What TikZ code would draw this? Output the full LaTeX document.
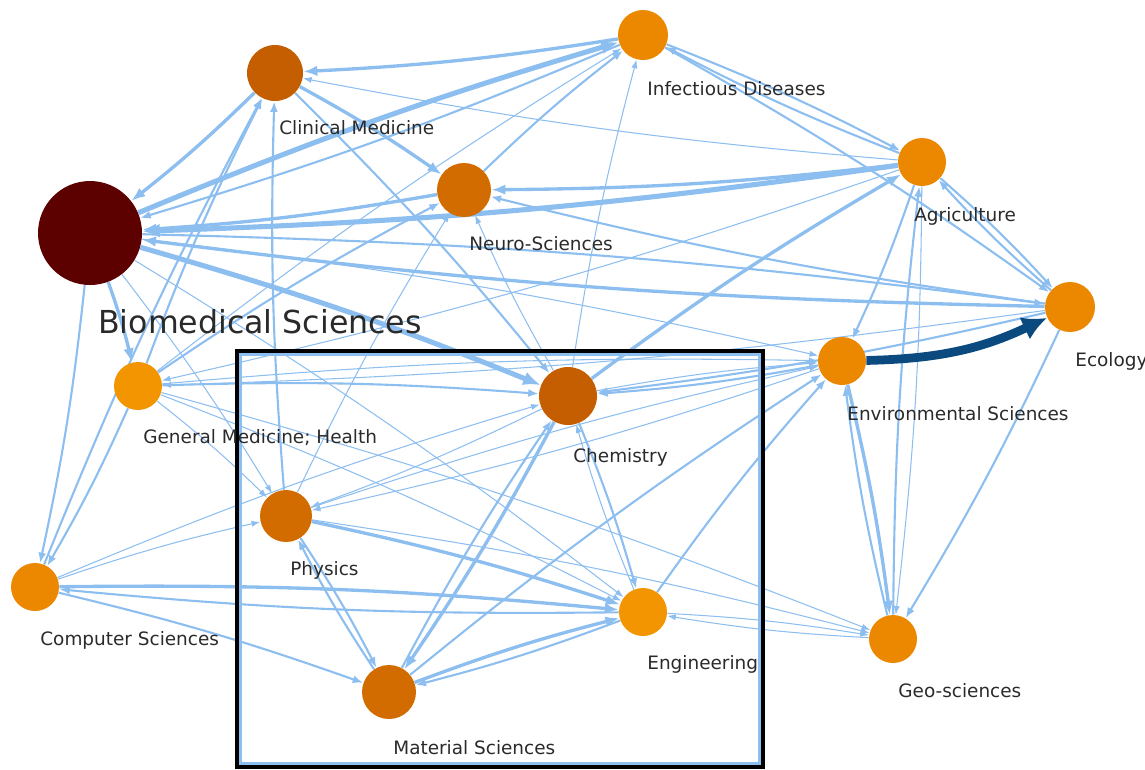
\documentclass[tikz,border=0pt]{standalone}
\usepackage{fontspec}
\setmainfont{DejaVu Sans}
\usetikzlibrary{arrows.meta,backgrounds}

\definecolor{edgeblue}{HTML}{8DBEF0}
\definecolor{darkflow}{HTML}{0B4A7E}
\definecolor{labelgray}{HTML}{2A2A2A}
\definecolor{biocol}{HTML}{5C0000}
\definecolor{deeporange}{HTML}{C45E00}
\definecolor{midorange}{HTML}{D26C00}
\definecolor{orange1}{HTML}{EC8800}
\definecolor{orange2}{HTML}{F39500}

\begin{document}
\begin{tikzpicture}[x=0.02cm,y=-0.02cm,
  field/.style={circle,inner sep=0pt,minimum size=#1},
  lbl/.style={anchor=west,inner sep=0pt,text=labelgray,font=\fontsize{10.5}{12}\selectfont},
  link/.style={draw=edgeblue,bend left=3},
  e1/.style={link,line width=0.6pt,-{Latex[length=5pt,width=3.5pt]}},
  e2/.style={link,line width=1.2pt,-{Latex[length=6pt,width=4.5pt]}},
  e3/.style={link,line width=1.9pt,-{Latex[length=8pt,width=6pt]}},
  e4/.style={link,line width=2.9pt,-{Latex[length=10pt,width=8pt]}}]
\useasboundingbox (0,0) rectangle (1145,769);

\node[field=2.08cm,fill=biocol] (bio) at (90,233) {};
\node[field=1.12cm,fill=deeporange] (clin) at (275,73) {};
\node[field=1.0cm,fill=orange1] (inf) at (643,35) {};
\node[field=1.08cm,fill=midorange] (neuro) at (464,190) {};
\node[field=0.96cm,fill=orange1] (agri) at (922,162) {};
\node[field=1.0cm,fill=orange1] (eco) at (1070,307) {};
\node[field=0.96cm,fill=orange1] (env) at (842,361) {};
\node[field=0.96cm,fill=orange2] (gen) at (138,386) {};
\node[field=1.16cm,fill=deeporange] (chem) at (568,396) {};
\node[field=1.04cm,fill=midorange] (phys) at (286,516) {};
\node[field=0.96cm,fill=orange1] (comp) at (35,587) {};
\node[field=0.96cm,fill=orange2] (eng) at (643,612) {};
\node[field=0.96cm,fill=orange1] (geo) at (893,639) {};
\node[field=1.08cm,fill=midorange] (mat) at (389,692) {};

\begin{pgfonlayer}{background}
\draw[e3] (clin) to (bio);
\draw[e4] (bio) to (inf);
\draw[e2] (inf) to (bio);
\draw[e4] (agri) to (bio);
\draw[e3] (neuro) to (bio);
\draw[e3] (eco) to (bio);
\draw[e2] (bio) to (eco);
\draw[e4] (bio) to (chem);
\draw[e3] (bio) to (gen);
\draw[e2] (bio) to (comp);
\draw[e1] (bio) to (phys);
\draw[e1] (bio) to (env);
\draw[e1] (bio) to (eng);

\draw[e3] (inf) to (clin);
\draw[e1] (agri) to (clin);
\draw[e3] (clin) to (neuro);
\draw[e2] (gen) to (clin);
\draw[e2] (phys) to (clin);
\draw[e2] (clin) to (chem);
\draw[e2] (comp) to (clin);

\draw[e2] (neuro) to (inf);
\draw[e1] (chem) to (inf);
\draw[e2] (inf) to (agri);
\draw[e2] (agri) to (inf);
\draw[e2] (inf) to (eco);
\draw[e1] (gen) to (inf);

\draw[e3] (agri) to (neuro);
\draw[e2] (eco) to (neuro);
\draw[e2] (gen) to (neuro);
\draw[e1] (phys) to (neuro);
\draw[e1] (chem) to (neuro);

\draw[e2] (agri) to (eco);
\draw[e2] (eco) to (agri);
\draw[e2] (agri) to (env);
\draw[e1] (agri) to (geo);
\draw[e3] (chem) to (agri);
\draw[e1] (agri) to (gen);
\draw[e2] (geo) to (agri);

\draw[e1] (eco) to (gen);
\draw[e2] (eco) to (chem);
\draw[e2] (eco) to (geo);

\draw[e3] (env) to (geo);
\draw[e2] (geo) to (env);
\draw[e2] (env) to (chem);
\draw[e1] (chem) to (env);
\draw[e2] (eng) to (env);
\draw[e2] (mat) to (env);
\draw[e1] (gen) to (env);
\draw[e1] (phys) to (env);

\draw[e2] (chem) to (eng);
\draw[e3] (chem) to (mat);
\draw[e2] (mat) to (chem);
\draw[e3] (phys) to (eng);
\draw[e2] (phys) to (mat);
\draw[e2] (mat) to (phys);
\draw[e3] (comp) to (eng);
\draw[e2] (eng) to (comp);
\draw[e2] (comp) to (mat);
\draw[e1] (comp) to (phys);
\draw[e1] (comp) to (chem);
\draw[e2] (gen) to (comp);
\draw[e3] (mat) to (eng);
\draw[e2] (eng) to (mat);
\draw[e1] (eng) to (geo);
\draw[e1] (geo) to (eng);
\draw[e1] (gen) to (geo);
\draw[e1] (phys) to (geo);
\draw[e2] (gen) to (chem);
\draw[e1] (gen) to (phys);
\draw[e1] (chem) to (phys);
\draw[e1] (env) to (phys);
\draw[e1] (gen) to (eng);
\draw[e1] (eng) to (chem);
\end{pgfonlayer}

\draw[darkflow,line width=5pt,-{Latex[length=14pt,width=14pt]}] (env) to[bend right=12] (eco);

\draw[edgeblue,line width=1.2pt] (240.5,354.5) rectangle (759.5,763.5);
\draw[line width=2.2pt] (237,351) rectangle (763,767);

\node[anchor=center,inner sep=0pt,text=labelgray,font=\fontsize{18}{20}\selectfont] (biolbl) at (260,322) {Biomedical Sciences};
\node[lbl] (clinlbl) at (279,128) {Clinical Medicine};
\node[lbl] (inflbl) at (647,89) {Infectious Diseases};
\node[lbl] (neurolbl) at (469,244) {Neuro-Sciences};
\node[lbl] (agrilbl) at (914,216) {Agriculture};
\node[lbl] (envlbl) at (847,414) {Environmental Sciences};
\node[lbl] (genlbl) at (143,438) {General Medicine; Health};
\node[lbl] (chemlbl) at (573,457) {Chemistry};
\node[lbl] (physlbl) at (290,570) {Physics};
\node[lbl] (complbl) at (40,640) {Computer Sciences};
\node[lbl] (englbl) at (647,664) {Engineering};
\node[lbl] (geolbl) at (898,691) {Geo-sciences};
\node[lbl] (matlbl) at (393,748) {Material Sciences};
\begin{scope}
\clip (0,0) rectangle (1145,769);
\node[lbl] (ecolbl) at (1075,361) {Ecology};
\end{scope}
\end{tikzpicture}
\end{document}
